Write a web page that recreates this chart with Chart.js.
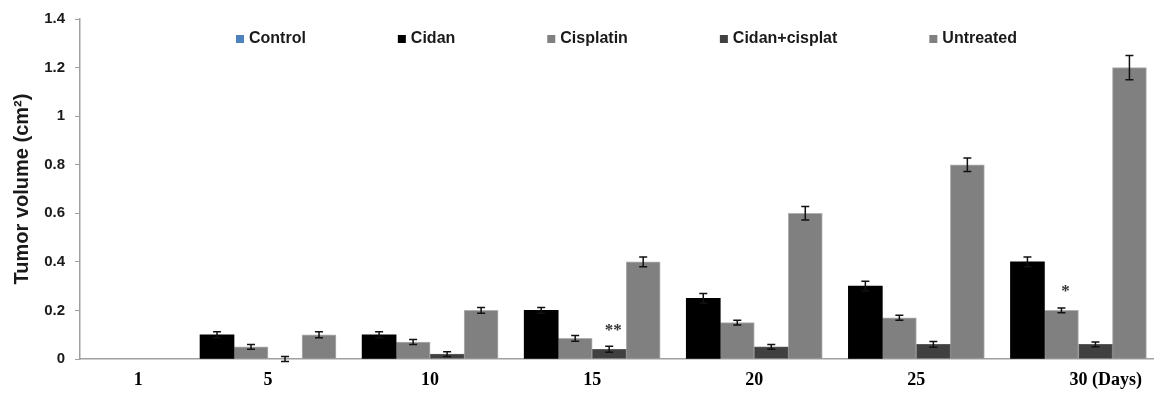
<!DOCTYPE html>
<html lang="en">
<head>
  <meta charset="utf-8">
  <title>Tumor volume | Chart.js</title>
  <script src="https://cdn.jsdelivr.net/npm/chart.js@4.4.1/dist/chart.umd.min.js"></script>
  <style>
    html, body { margin: 0; padding: 0; background: #fff; }
    .wrapper { width: 1157px; height: 394px; }
  </style>
</head>
<body>
  <div class="wrapper">
    <canvas id="chart-0"></canvas>
  </div>

  <script>
    // days on the x axis (used as a linear scale, so 1 -> 5 is a shorter step)
    let days = [1, 5, 10, 15, 20, 25, 30];
    let dayTicks = [1, 5, 10, 15, 20, 25, 30];
    let yTicks = [0, 0.2, 0.4, 0.6, 0.8, 1, 1.2, 1.4];

    // tumor volume (cm2); nothing is drawn on day 1
    let controlValues   = [null, null, null, null, null, null, null];
    let cidanValues     = [null, 0.1, 0.1, 0.2, 0.25, 0.3, 0.4];
    let cisplatinValues = [null, 0.05, 0.07, 0.085, 0.15, 0.17, 0.2];
    let comboValues     = [null, 0, 0.02, 0.04, 0.05, 0.06, 0.06];
    let untreatedValues = [null, 0.1, 0.2, 0.4, 0.6, 0.8, 1.2];

    // error bar half-heights
    let cidanErrors     = [0, 0.012, 0.012, 0.012, 0.02, 0.02, 0.02];
    let cisplatinErrors = [0, 0.01, 0.01, 0.012, 0.01, 0.01, 0.01];
    let comboErrors     = [0, 0.01, 0.01, 0.012, 0.01, 0.012, 0.01];
    let untreatedErrors = [0, 0.012, 0.012, 0.02, 0.028, 0.028, 0.05];

    // significance marks: dataset index, day, text
    let marks = [
      {dataset: 3, day: 15, text: '**'},
      {dataset: 2, day: 30, text: '*'}
    ];

    let textColor = '#1a1a1a';
    let axisColor = '#a0a0a0';
    let legendGap = 92;

    Chart.defaults.font.family = '"Liberation Sans", Arial, sans-serif';
    Chart.defaults.color = textColor;

    const errorBars = {
      id: 'errorBars',
      afterDatasetsDraw(chart) {
        const ctx = chart.ctx;
        const yScale = chart.scales.y;
        ctx.save();
        ctx.strokeStyle = '#111';
        ctx.lineWidth = 1.5;
        chart.data.datasets.forEach(function(ds, i) {
          if (!ds.errors) return;
          chart.getDatasetMeta(i).data.forEach(function(bar, j) {
            const err = ds.errors[j];
            const v = ds.data[j];
            if (!err || v === null) return;
            const top = yScale.getPixelForValue(v + err);
            const bot = yScale.getPixelForValue(v - err);
            ctx.beginPath();
            ctx.moveTo(bar.x, top);
            ctx.lineTo(bar.x, bot);
            ctx.moveTo(bar.x - 4, top);
            ctx.lineTo(bar.x + 4, top);
            ctx.moveTo(bar.x - 4, bot);
            ctx.lineTo(bar.x + 4, bot);
            ctx.stroke();
          });
        });

        // asterisks above the marked bars
        ctx.fillStyle = '#333';
        ctx.font = 'bold 17px "Liberation Serif", serif';
        ctx.textAlign = 'center';
        ctx.textBaseline = 'middle';
        marks.forEach(function(m) {
          const ds = chart.data.datasets[m.dataset];
          const j = days.indexOf(m.day);
          const bar = chart.getDatasetMeta(m.dataset).data[j];
          const top = yScale.getPixelForValue(ds.data[j] + (ds.errors[j] || 0));
          ctx.fillText(m.text, bar.x + 4, top - 16);
        });

        // "(Days)" after the last day label
        const xScale = chart.scales.x;
        const last = dayTicks[dayTicks.length - 1];
        ctx.fillStyle = '#000';
        ctx.font = 'bold 18px "Liberation Serif", serif';
        const w = ctx.measureText(String(last)).width;
        ctx.textAlign = 'left';
        ctx.fillText(' (Days)', xScale.getPixelForValue(last) + w / 2, xScale.top + 11 + 10.8);
        ctx.restore();
      }
    };

    // one-row legend drawn inside the plot, near its top
    const insideLegend = {
      id: 'insideLegend',
      afterDraw(chart) {
        const ctx = chart.ctx;
        const area = chart.chartArea;
        ctx.save();
        ctx.font = 'bold 16px "Liberation Sans", Arial, sans-serif';
        const items = chart.data.datasets.map(ds => ({
          text: ds.label,
          color: ds.backgroundColor,
          width: 8 + 5 + ctx.measureText(ds.label).width
        }));
        const total = items.reduce((s, it) => s + it.width, 0) + legendGap * (items.length - 1);
        let x = (area.left + area.right) / 2 - total / 2 + 10;
        const y = area.top + 20;
        ctx.textAlign = 'left';
        ctx.textBaseline = 'middle';
        items.forEach(function(it) {
          ctx.fillStyle = it.color;
          ctx.fillRect(x, y - 4, 8, 8);
          ctx.fillStyle = textColor;
          ctx.fillText(it.text, x + 13, y);
          x += it.width + legendGap;
        });
        ctx.restore();
      }
    };

    let chartData = {
      labels: days,
      datasets: [
        {label: 'Control', data: controlValues, backgroundColor: '#4f81bd', borderWidth: 0},
        {label: 'Cidan', data: cidanValues, errors: cidanErrors, backgroundColor: '#000000', borderWidth: 0},
        {label: 'Cisplatin', data: cisplatinValues, errors: cisplatinErrors, backgroundColor: '#808080', borderColor: '#b0b0b0', borderWidth: 1},
        {label: 'Cidan+cisplat', data: comboValues, errors: comboErrors, backgroundColor: '#404040', borderColor: '#5a5a5a', borderWidth: 1},
        {label: 'Untreated', data: untreatedValues, errors: untreatedErrors, backgroundColor: '#808080', borderColor: '#b0b0b0', borderWidth: 1}
      ]
    };

    let chart = new Chart('chart-0', {
      type: 'bar',
      data: chartData,
      plugins: [errorBars, insideLegend],
      options: {
        responsive: true,
        maintainAspectRatio: false,
        animation: false,
        layout: {padding: {top: 16, right: 4, left: 0, bottom: 0}},
        datasets: {
          bar: {skipNull: true, barThickness: 34}
        },
        plugins: {
          tooltip: {enabled: false},
          legend: {display: false}
        },
        scales: {
          x: {
            type: 'linear',
            offset: false,
            min: -0.8,
            max: 32.3,
            afterBuildTicks: function(scale) {
              scale.ticks = dayTicks.map(v => ({value: v}));
            },
            afterFit: function(scale) {
              scale.height = 35;
            },
            ticks: {
              padding: 11,
              color: '#000',
              font: {family: '"Liberation Serif", serif', size: 18, weight: 'bold'},
              callback: v => String(v)
            },
            grid: {display: true, drawOnChartArea: false, drawTicks: false, offset: false},
            border: {color: axisColor, width: 1.5}
          },
          y: {
            min: 0,
            max: 1.4,
            afterBuildTicks: function(scale) {
              scale.ticks = yTicks.map(v => ({value: v}));
            },
            afterFit: function(scale) {
              scale.width = 80;
            },
            ticks: {
              padding: 10,
              font: {size: 15, weight: 'bold'},
              callback: v => String(Math.round(v * 10) / 10)
            },
            grid: {drawOnChartArea: false, tickLength: 5, color: axisColor},
            border: {color: axisColor, width: 1.5},
            title: {
              display: true,
              text: 'Tumor volume (cm²)',
              font: {size: 20, weight: 'bold'},
              padding: {top: 10, bottom: 0}
            }
          }
        }
      }
    });
  </script>
</body>
</html>
